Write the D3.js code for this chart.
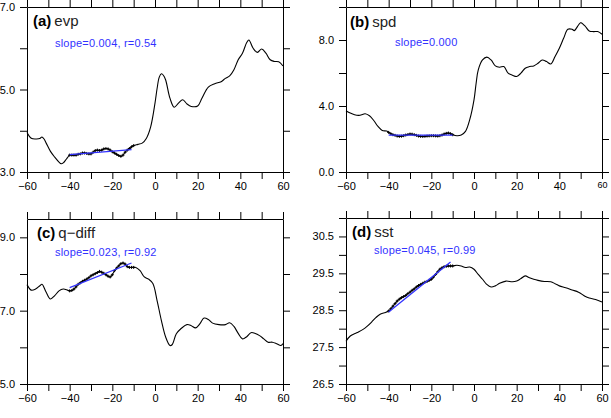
<!DOCTYPE html>
<html>
<head>
<meta charset="utf-8">
<script src="https://cdn.jsdelivr.net/npm/d3@7"></script>
<style>
  body { margin: 0; background: #fff; }
  svg { display: block; font-family: "Liberation Sans", Arial, Helvetica, sans-serif; }
  .axis text { font-size: 11px; fill: #000; }
  .axis line, .axis path { stroke: #000; stroke-width: 1; }
</style>
</head>
<body>
<svg id="chart" width="611" height="418"></svg>
<script>
// ---------- data (latitude, value)

const evp = [
  [-60, 3.96], [-58, 3.82], [-56, 3.80], [-54, 3.81], [-53, 3.85], [-52, 3.80], [-51, 3.70],
  [-49, 3.50], [-47, 3.36], [-45, 3.24], [-44, 3.20], [-43, 3.22], [-42, 3.28], [-41, 3.35],
  [-40, 3.41], [-39, 3.41], [-38, 3.41], [-37, 3.41], [-36, 3.43], [-35, 3.44], [-34, 3.46],
  [-33, 3.46], [-32, 3.45], [-31, 3.44], [-30, 3.44], [-29, 3.48], [-28, 3.52], [-27, 3.53],
  [-26, 3.52], [-25, 3.53], [-24, 3.56], [-23, 3.57], [-22, 3.56], [-21, 3.53], [-20, 3.49],
  [-19, 3.46], [-18, 3.43], [-17, 3.40], [-16, 3.38], [-15, 3.41], [-14, 3.48], [-13, 3.53],
  [-12, 3.57], [-11, 3.61], [-10, 3.64],
  [-8, 3.67], [-6, 3.70], [-4, 3.82], [-2, 4.10], [0, 4.67], [1, 5.03], [2, 5.30], [3, 5.38],
  [4, 5.34], [5, 5.23], [7, 4.79], [9, 4.57], [11, 4.67], [13, 4.75], [15, 4.65], [17, 4.59],
  [20, 4.60], [22, 4.79], [25, 5.06], [28, 5.14], [31, 5.19], [33, 5.27], [35, 5.33],
  [37, 5.48], [39, 5.72], [41, 5.88], [43, 6.14], [44, 6.20], [46, 6.00], [48, 5.90],
  [50, 5.98], [52, 5.88], [54, 5.72], [56, 5.68], [58, 5.67], [60, 5.57]
];

const spd = [
  [-60, 3.71], [-58, 3.57], [-56, 3.47], [-54, 3.43], [-52, 3.50], [-51, 3.53], [-49, 3.41],
  [-47, 3.12], [-45, 2.76], [-43, 2.52], [-41, 2.48],
  [-40, 2.40], [-39, 2.32], [-38, 2.26], [-37, 2.22], [-36, 2.18], [-35, 2.16], [-34, 2.17],
  [-33, 2.20], [-32, 2.24], [-31, 2.27], [-30, 2.30], [-29, 2.29], [-28, 2.26], [-27, 2.22],
  [-26, 2.18], [-25, 2.16], [-24, 2.15], [-23, 2.16], [-22, 2.18], [-21, 2.19], [-20, 2.20],
  [-19, 2.20], [-18, 2.19], [-17, 2.18], [-16, 2.20], [-15, 2.24], [-14, 2.30], [-13, 2.34],
  [-12, 2.36], [-11, 2.32], [-10, 2.26],
  [-8, 2.20], [-6, 2.24], [-4, 2.46], [-2, 3.17], [0, 4.37], [1, 5.38], [2, 6.19], [4, 6.79],
  [6, 6.96], [8, 6.79], [10, 6.43], [12, 6.35], [14, 6.39], [16, 5.99], [18, 5.87], [20, 5.79],
  [22, 5.99], [24, 6.29], [26, 6.39], [28, 6.43], [30, 6.59], [32, 6.79], [34, 6.69],
  [36, 6.55], [38, 7.00], [40, 7.50], [42, 8.10], [44, 8.65], [46, 8.65], [47, 8.57],
  [49, 8.91], [50, 9.05], [52, 8.85], [54, 8.55], [56, 8.51], [58, 8.51], [60, 8.35]
];

const qdiff = [
  [-60, 7.71], [-58, 7.56], [-56, 7.59], [-54, 7.68], [-53, 7.72], [-51, 7.50], [-49, 7.32],
  [-47, 7.41], [-45, 7.54], [-43, 7.59], [-41, 7.56],
  [-40, 7.54], [-39, 7.55], [-38, 7.59], [-37, 7.65], [-36, 7.72], [-35, 7.76], [-34, 7.80],
  [-33, 7.83], [-32, 7.86], [-31, 7.90], [-30, 7.95], [-29, 7.98], [-28, 8.01], [-27, 8.04],
  [-26, 8.07], [-25, 8.05], [-24, 8.02], [-23, 7.98], [-22, 7.94], [-21, 7.92], [-20, 7.98],
  [-19, 8.09], [-18, 8.16], [-17, 8.22], [-16, 8.28], [-15, 8.30], [-14, 8.27], [-13, 8.20],
  [-12, 8.18], [-11, 8.18], [-10, 8.18],
  [-9, 8.18], [-7, 8.09], [-5, 7.92], [-3, 7.86], [-1, 7.74], [1, 7.27], [3, 6.73], [5, 6.28],
  [7, 6.05], [8, 6.07], [10, 6.37], [12, 6.50], [15, 6.62], [17, 6.59], [19, 6.53], [21, 6.64],
  [23, 6.80], [25, 6.76], [27, 6.66], [30, 6.62], [33, 6.62], [35, 6.67], [37, 6.57],
  [39, 6.38], [41, 6.23], [43, 6.29], [45, 6.40], [47, 6.38], [49, 6.32], [51, 6.23],
  [53, 6.14], [55, 6.14], [57, 6.10], [59, 6.05], [60, 6.10]
];

const sst = [
  [-60, 27.66], [-58, 27.80], [-55, 27.89], [-52, 27.98], [-50, 28.07], [-48, 28.18],
  [-46, 28.30], [-44, 28.39], [-42, 28.43],
  [-40, 28.48], [-39, 28.54], [-38, 28.61], [-37, 28.68], [-36, 28.75], [-35, 28.80],
  [-34, 28.84], [-33, 28.87], [-32, 28.90], [-31, 28.95], [-30, 28.99], [-29, 29.04],
  [-28, 29.08], [-27, 29.13], [-26, 29.17], [-25, 29.20], [-24, 29.23], [-23, 29.26],
  [-22, 29.28], [-21, 29.31], [-20, 29.34], [-19, 29.40], [-18, 29.47], [-17, 29.54],
  [-16, 29.61], [-15, 29.65], [-14, 29.68], [-13, 29.69], [-12, 29.70], [-11, 29.70],
  [-10, 29.70],
  [-8, 29.72], [-6, 29.70], [-4, 29.66], [-2, 29.67], [0, 29.61], [2, 29.47], [4, 29.34],
  [6, 29.20], [8, 29.13], [10, 29.16], [12, 29.23], [15, 29.29], [18, 29.27], [20, 29.29],
  [22, 29.36], [24, 29.43], [26, 29.38], [28, 29.34], [30, 29.31], [33, 29.28], [36, 29.27],
  [38, 29.22], [40, 29.16], [43, 29.11], [46, 29.05], [49, 28.99], [52, 28.88], [54, 28.83],
  [57, 28.79], [60, 28.72]
];

// regression lines: [lat, value] at start and end
const evpFit = [[-40, 3.42], [-11, 3.54]];
const spdFit = [[-40, 2.24], [-10, 2.24]];
const qdiffFit = [[-40, 7.63], [-11, 8.30]];
const sstFit = [[-40, 28.45], [-11, 29.81]];

const fitRange = [-40, -10];

const panelLetters = ["(a)", "(b)", "(c)", "(d)"];
const panelNames = ["evp", "spd", "q\u2212diff", "sst"];
const statLabels = ["slope=0.004, r=0.54", "slope=0.000", "slope=0.023, r=0.92", "slope=0.045, r=0.99"];

const xTicks = d3.range(-60, 61, 10);
const xLabels = [-60, -40, -20, 0, 20, 40, 60];

const yDomains = [[3, 7], [0, 10], [5, 9.5], [26.5, 31]];
const yTickSteps = [1, 2, 1, 0.5];
const yLabels = [[3, 5, 7], [0, 4, 8], [5, 7, 9], [26.5, 27.5, 28.5, 29.5, 30.5]];

// ---------- layout

const BLUE = "#3232ff";
const TICK = 7;

const panels = [
  { series: evp, fit: evpFit, left: 27, top: 7, right: 283, bottom: 172, titleDx: 6, statDx: 28, titleY: 26, statY: 47 },
  { series: spd, fit: spdFit, left: 346, top: 7, right: 602, bottom: 172, titleDx: 4, statDx: 49, titleY: 27, statY: 46, smallLast: true },
  { series: qdiff, fit: qdiffFit, left: 27, top: 219, right: 283, bottom: 384, titleDx: 10, statDx: 28, titleY: 238, statY: 256 },
  { series: sst, fit: sstFit, left: 346, top: 218, right: 602, bottom: 384, titleDx: 6, statDx: 28, titleY: 237, statY: 254 }
];

const svg = d3.select("#chart");

panels.forEach(function (p, i) {
  const x = d3.scaleLinear().domain([-60, 60]).range([p.left, p.right]);
  const [y0, y1] = yDomains[i];
  const y = d3.scaleLinear().domain(yDomains[i]).range([p.bottom, p.top]);
  const yTicks = d3.range(y0, y1 + 1e-6, yTickSteps[i]);
  const fmtY = function (d) {
    return yLabels[i].some(v => Math.abs(v - d) < 1e-6) ? d3.format(".1f")(d) : "";
  };
  const fmtX = function (d) {
    return xLabels.includes(d) ? d3.format("d")(d) : "";
  };

  const g = svg.append("g");

  g.append("g").attr("class", "axis")
    .attr("transform", "translate(0," + p.bottom + ")")
    .call(d3.axisBottom(x).tickValues(xTicks).tickFormat(fmtX).tickSize(TICK).tickSizeOuter(0).tickPadding(3));
  g.append("g").attr("class", "axis")
    .attr("transform", "translate(0," + p.top + ")")
    .call(d3.axisTop(x).tickValues(xTicks).tickFormat("").tickSize(TICK).tickSizeOuter(0));
  g.append("g").attr("class", "axis")
    .attr("transform", "translate(" + p.left + ",0)")
    .call(d3.axisLeft(y).tickValues(yTicks).tickFormat(fmtY).tickSize(TICK).tickSizeOuter(0).tickPadding(5));
  g.append("g").attr("class", "axis")
    .attr("transform", "translate(" + p.right + ",0)")
    .call(d3.axisRight(y).tickValues(yTicks).tickFormat("").tickSize(TICK).tickSizeOuter(0));

  if (p.smallLast) {
    g.selectAll(".axis text").filter(d => d === 60).style("font-size", "9px");
  }

  const line = d3.line()
    .x(d => x(d[0]))
    .y(d => y(d[1]))
    .curve(d3.curveCatmullRom.alpha(0.5));

  g.append("path")
    .datum(p.series)
    .attr("d", line)
    .attr("fill", "none")
    .attr("stroke", "#000")
    .attr("stroke-width", 1.1);

  // markers on the points used for the fit
  g.selectAll("path.mark")
    .data(p.series.filter(d => d[0] >= fitRange[0] && d[0] <= fitRange[1]))
    .enter()
    .append("path")
    .attr("class", "mark")
    .attr("transform", d => "translate(" + x(d[0]) + "," + y(d[1]) + ")")
    .attr("d", "M-1.5,0H1.5M0,-1.5V1.5")
    .attr("stroke", "#000")
    .attr("stroke-width", 1);

  g.append("path")
    .datum(p.fit)
    .attr("d", d3.line().x(d => x(d[0])).y(d => y(d[1])))
    .attr("fill", "none")
    .attr("stroke", BLUE)
    .attr("stroke-width", 1.3);

  const title = g.append("text")
    .attr("x", p.left + p.titleDx)
    .attr("y", p.titleY)
    .style("font-size", "15px");
  title.append("tspan").attr("font-weight", "bold").attr("fill", "#000").text(panelLetters[i]);
  title.append("tspan").attr("dx", 3).attr("fill", "#222").text(panelNames[i]);

  g.append("text")
    .attr("x", p.left + p.statDx)
    .attr("y", p.statY)
    .attr("fill", BLUE)
    .style("font-size", "11px")
    .style("letter-spacing", "0.2px")
    .text(statLabels[i]);
});
</script>
</body>
</html>
